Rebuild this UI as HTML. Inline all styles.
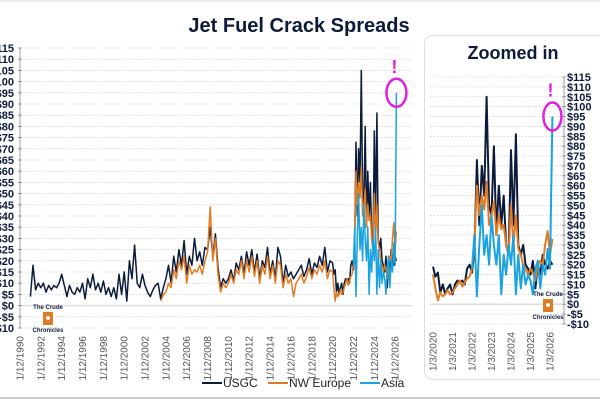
<!DOCTYPE html>
<html><head><meta charset="utf-8"><style>
body{margin:0;width:600px;height:400px;overflow:hidden;background:#fff;font-family:"Liberation Sans",sans-serif}
svg text{font-family:"Liberation Sans",sans-serif}
</style></head><body>
<svg id="c" width="600" height="400">
<line x1="0" y1="1" x2="600" y2="1" stroke="#ddd"/>
<line x1="0" y1="398" x2="600" y2="398" stroke="#ccc" stroke-width="2"/>
<text x="299" y="32" font-size="20" font-weight="bold" fill="#0d1b3a" text-anchor="middle">Jet Fuel Crack Spreads</text>
<rect x="424.5" y="35.5" width="190" height="344" rx="8" fill="#fff" stroke="#ddd"/>
<text x="513" y="59" font-size="18" font-weight="bold" fill="#0d1b3a" text-anchor="middle">Zoomed in</text>
<g id="main"></g><g id="zoom"></g>
<g font-size="12" fill="#222">
<line x1="202" y1="383" x2="222" y2="383" stroke="#0d1b3a" stroke-width="2"/><text x="223" y="387">USGC</text>
<line x1="268" y1="383" x2="288" y2="383" stroke="#e07b24" stroke-width="2"/><text x="289" y="387">NW Europe</text>
<line x1="360" y1="383" x2="380" y2="383" stroke="#1aa3e0" stroke-width="2"/><text x="381" y="387">Asia</text>
</g>
</svg>
<script>
const yTicks=[-10,-5,0,5,10,15,20,25,30,35,40,45,50,55,60,65,70,75,80,85,90,95,100,105,110,115];
const mainYears=[1990,1992,1994,1996,1998,2000,2002,2004,2006,2008,2010,2012,2014,2016,2018,2020,2022,2024,2026];
const zoomYears=[2020,2021,2022,2023,2024,2025,2026];
const usgcCoarseStart=1991.0, coarseStep=0.25;
const usgcCoarse=[4,18,7,10, 8,10,6,9, 7,9,8,10, 14,9,4,9, 6,5,8,6, 10,3,12,8, 14,7,10,6, 11,5,8,4, 8,3,14,5, 15,2,20,12, 27,10,8,14, 9,6,4,7, 9,10,3,8, 12,18,10,22, 15,25,18,29, 14,22,18,30, 20,24,18,26, 25,35,22,32, 17,8,12,10, 12,16,11,19, 16,22,14,24, 18,25,15,23, 12,20,17,26, 14,20,12,26, 22,10,18,13, 15,12,14,16, 18,13,16,21, 14,19,17,22, 18,26,15,20];
const nweCoarseStart=2003.5;
const nweCoarse=[2,5, 6,10,8,16, 12,20,16,22, 10,18,14,16, 15,18,14,20, 24,44,20,30, 14,6,10,8, 10,14,10,16, 14,20,12,20, 15,22,13,20, 10,18,14,22, 12,18,10,20, 18,8,14,10, 12,4,10,12, 14,10,13,17, 12,16,14,18, 15,20,12,16];
const fineStart=2020.0, fineStep=0.125;
const usgcFine=[19,14,16,6,10,5,8,10, 5,10,12,11,12,10,18,20, 16,27,73,40,70,55,105,50, 45,80,35,60,40,55,30,25, 78,40,86,30,25,30,20,18, 15,22,8,20,15,25,20,18, 22,20];
const nweFine=[15,8,2,6,4,5,7,5, 6,8,10,12,9,11,13,14, 18,30,60,45,55,48,62,40, 45,52,35,45,38,40,30,25, 50,30,45,28,25,20,18,15, 18,16,12,20,22,20,30,37, 25,33];
const asiaStart=2022.0;
const asiaFine=[18,35,4,30,50,25,35,20, 45,30,20,35,5,25,15,30, 20,35,5,25,8,20,10,15, 12,5,18,22,8,20,15,28, 18,95];

const NS='http://www.w3.org/2000/svg';
function mk(tag,attrs,parent){const e=document.createElementNS(NS,tag);for(const k in attrs)e.setAttribute(k,attrs[k]);parent.appendChild(e);return e;}
function series(start,step,vals){return vals.map((v,i)=>[start+i*step,v]);}
const usgc=series(usgcCoarseStart,coarseStep,usgcCoarse).concat(series(fineStart,fineStep,usgcFine));
const nwe=series(nweCoarseStart,coarseStep,nweCoarse).concat(series(fineStart,fineStep,nweFine));
const asia=series(asiaStart,fineStep,asiaFine);

function draw(g,cfg){
  const X=t=>cfg.x0+(t-cfg.t0)*cfg.px;
  const Y=v=>cfg.y0-(v+10)*cfg.py;
  yTicks.forEach(v=>{
    const l=mk('line',{x1:cfg.gx0,x2:cfg.gx1,y1:Y(v),y2:Y(v),stroke:v===0?'#ddd':'#ccc','stroke-width':v===0?1.5:0.6,'stroke-dasharray':v===0?'':'2,1.5'},g);
    
    
    const t=mk('text',{x:cfg.lx,y:Y(v)+4,'font-size':cfg.fs,'font-weight':'bold',fill:'#0d1b3a','text-anchor':cfg.anchor},g);
    t.textContent=(v<0?'-$'+(-v):'$'+v);
    
    
    mk('line',{x1:cfg.ax-2,x2:cfg.ax+2,y1:Y(v),y2:Y(v),stroke:'#888','stroke-width':0.8},g);
  });
  mk('line',{x1:cfg.ax,x2:cfg.ax,y1:Y(115),y2:Y(-10),stroke:'#888','stroke-width':0.8},g);
  cfg.years.forEach(y=>{
    const x=X(y+cfg.off);
    const t=mk('text',{x:0,y:0,'font-size':10,fill:'#555','text-anchor':'end',transform:`translate(${x+3.5},${cfg.y0+8}) rotate(-90)`},g);
    t.textContent=cfg.prefix+y;
    
    
  });
  [[usgc,'#0d1b3a','usgc-line'],[nwe,'#e07b24','nw-europe-line'],[asia,'#1aa3e0','asia-line']].forEach(([s,c,n])=>{
    const pts=s.filter(p=>p[0]>=cfg.tmin).map(p=>X(p[0]).toFixed(1)+','+Y(p[1]).toFixed(1)).join(' ');
    const pl=mk('polyline',{points:pts,fill:'none',stroke:c,'stroke-width':cfg.sw,'stroke-linejoin':'round'},g);
    
    
  });
  const last=asia[asia.length-1];
  const el=mk('ellipse',{cx:X(last[0]),cy:Y(last[1]),rx:cfg.erx,ry:14,fill:'none',stroke:'#e020e0','stroke-width':2.5},g);
  
  
  const ex=mk('text',{x:X(last[0])-2,y:Y(last[1])-20,'font-size':18,'font-weight':'bold',fill:'#e020e0','text-anchor':'middle'},g);
  ex.textContent='!';
  
  
  const lg=mk('g',{},g);
  
  
  mk('rect',{x:cfg.logo[0]-5,y:cfg.logo[1]+5,width:10,height:13,fill:'#e07b24'},lg);
  mk('circle',{cx:cfg.logo[0],cy:cfg.logo[1]+11,r:2,fill:'#fff'},lg);
  const a=mk('text',{x:cfg.logo[0],y:cfg.logo[1]+2,'font-size':6,'font-weight':'bold',fill:'#0d1b3a','text-anchor':'middle','font-family':'Liberation Serif'},lg);a.textContent='The Crude';
  const b=mk('text',{x:cfg.logo[0],y:cfg.logo[1]+25,'font-size':6,'font-weight':'bold',fill:'#0d1b3a','text-anchor':'middle','font-family':'Liberation Serif'},lg);b.textContent='Chronicles';
}
draw(document.getElementById('main'),{x0:20,t0:1990,px:10.42,y0:328,py:2.24,gx0:20,gx1:412,lx:14,anchor:'end',ax:20,years:mainYears,off:0,prefix:'1/12/',tmin:0,sw:1.5,erx:10,logo:[48,307],fs:11});
draw(document.getElementById('zoom'),{x0:433,t0:2020,px:19.5,y0:324,py:1.976,gx0:430,gx1:562,lx:567,anchor:'start',ax:564,years:zoomYears,off:0,prefix:'1/3/',tmin:2020,sw:2,erx:9,logo:[548,294],fs:11});
</script>
</body></html>
